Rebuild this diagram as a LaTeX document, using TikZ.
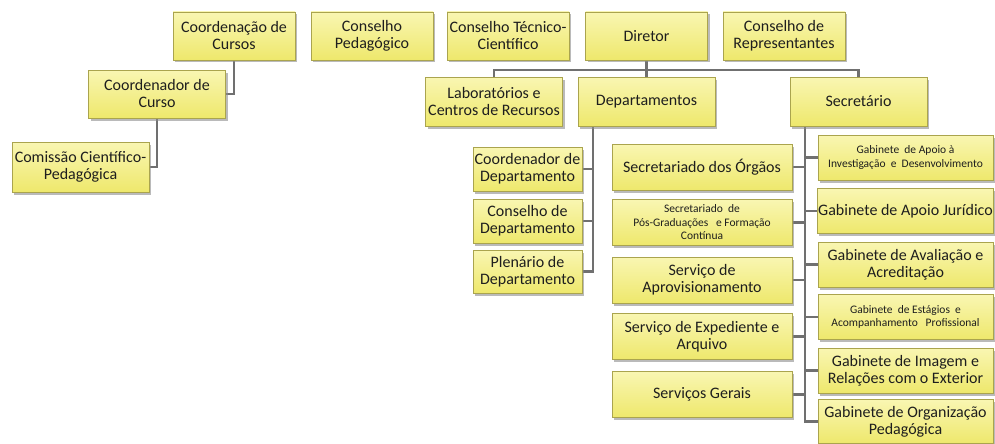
\documentclass[tikz,border=0pt]{standalone}
\usepackage{fontspec}
\setmainfont{Carlito}
\usepackage{xcolor}
\usepackage{tikz}
\usetikzlibrary{calc}
\usetikzlibrary{shadows}
\usetikzlibrary{backgrounds}
\definecolor{boxtop}{RGB}{249,246,178}
\definecolor{boxbot}{RGB}{238,232,108}
\definecolor{boxline}{RGB}{170,164,78}
\definecolor{linegray}{RGB}{112,112,112}
\definecolor{txtgray}{RGB}{30,30,30}
\newcommand{\smtxt}{\fontsize{11.5}{13.5}\selectfont}
\tikzset{orgbox/.style={draw=boxline, line width=0.8pt, top color=boxtop, bottom color=boxbot,
    text=txtgray, align=center, inner sep=1pt, font=\fontsize{16}{17}\selectfont,
    drop shadow={shadow xshift=2pt, shadow yshift=-2.5pt, fill=black!45, opacity=.6}},
  topbox/.style={minimum width=122pt, minimum height=48pt},
  rowbox/.style={minimum width=137pt, minimum height=49pt},
  deptbox/.style={minimum width=109pt, minimum height=44pt},
  secbox/.style={minimum width=180pt, minimum height=46pt},
  gabbox/.style={minimum width=175pt, minimum height=45pt},
  conn/.style={draw=linegray, line width=2.8pt}}

\begin{document}
\begin{tikzpicture}[x=1pt,y=-1pt]
\useasboundingbox (0,0) rectangle (995,444);
% top row
\node[orgbox,topbox] (ccursos) at (234,36) {Coordenação de\\Cursos};
\node[orgbox,topbox] (cped) at (372,36) {Conselho\\Pedagógico};
\node[orgbox,topbox] (ctc) at (508,36) {Conselho Técnico-\\Científico};
\node[orgbox,topbox] (dir) at (646.5,36) {Diretor};
\node[orgbox,topbox] (crep) at (784,36) {Conselho de\\Representantes};
% cursos
\node[orgbox,rowbox,minimum height=48pt] (ccurso) at (157,94) {Coordenador de\\Curso};
\node[orgbox,rowbox,minimum height=50pt] (ccp) at (80.5,167) {Comissão Científico-\\Pedagógica};
% second row
\node[orgbox,rowbox] (lab) at (494,101.5) {Laboratórios e\\Centros de Recursos};
\node[orgbox,rowbox] (dept) at (646.5,101.5) {Departamentos};
\node[orgbox,rowbox] (sec) at (858.5,101.5) {Secretário};
% departamentos
\node[orgbox,deptbox] (cdep) at (527.5,169) {Coordenador de\\Departamento};
\node[orgbox,deptbox] (condep) at (527.5,221) {Conselho de\\Departamento};
\node[orgbox,deptbox,minimum height=43pt] (pdep) at (527.5,271.5) {Plenário de\\Departamento};
% secretario, servicos
\node[orgbox,secbox] (sorg) at (702,167) {Secretariado dos Órgãos};
\node[orgbox,secbox,font=\smtxt] (spos) at (702,222.5) {Secretariado~~de\\Pós-Graduações~~~e Formação\\Contínua};
\node[orgbox,secbox] (saprov) at (702,280) {Serviço de\\Aprovisionamento};
\node[orgbox,secbox] (sexp) at (702,336.5) {Serviço de Expediente e\\Arquivo};
\node[orgbox,secbox] (sger) at (702,394.5) {Serviços Gerais};
% secretario, gabinetes
\node[orgbox,gabbox,font=\smtxt] (gaid) at (905.5,157.5) {Gabinete~~de Apoio à\\Investigação~~e~~Desenvolvimento};
\node[orgbox,gabbox] (gaj) at (905.5,211) {Gabinete de Apoio Jurídico};
\node[orgbox,gabbox] (gaa) at (905.5,264.5) {Gabinete de Avaliação e\\Acreditação};
\node[orgbox,gabbox,font=\smtxt] (gea) at (905.5,317) {Gabinete~~de Estágios~~e\\Acompanhamento~~~Profissional};
\node[orgbox,gabbox] (gire) at (905.5,370.5) {Gabinete de Imagem e\\Relações com o Exterior};
\node[orgbox,gabbox,minimum height=44pt] (gop) at (905.5,421.5) {Gabinete de Organização\\Pedagógica};

\coordinate (dbus) at (646.5,70);
\coordinate (dtop) at (593,126);
\coordinate (stop) at (805,126);
\begin{scope}[on background layer]
\draw[conn] (ccursos.south) |- (ccurso.east);
\draw[conn] (ccurso.south) |- (ccp.east);
\draw[conn] (dir.south) -- (dept.north);
\draw[conn] (lab.north) |- (dbus) -| (sec.north);
\draw[conn] (dtop) |- (pdep.east);
\draw[conn] (cdep.east) -- (cdep.east -| dtop);
\draw[conn] (condep.east) -- (condep.east -| dtop);
\draw[conn] (stop) |- (gop.west);
\draw[conn] (sorg.east) -- (sorg.east -| stop);
\draw[conn] (spos.east) -- (spos.east -| stop);
\draw[conn] (saprov.east) -- (saprov.east -| stop);
\draw[conn] (sexp.east) -- (sexp.east -| stop);
\draw[conn] (sger.east) -- (sger.east -| stop);
\draw[conn] (stop |- gaid.west) -- (gaid.west);
\draw[conn] (stop |- gaj.west) -- (gaj.west);
\draw[conn] (stop |- gaa.west) -- (gaa.west);
\draw[conn] (stop |- gea.west) -- (gea.west);
\draw[conn] (stop |- gire.west) -- (gire.west);
\end{scope}
\end{tikzpicture}
\end{document}
